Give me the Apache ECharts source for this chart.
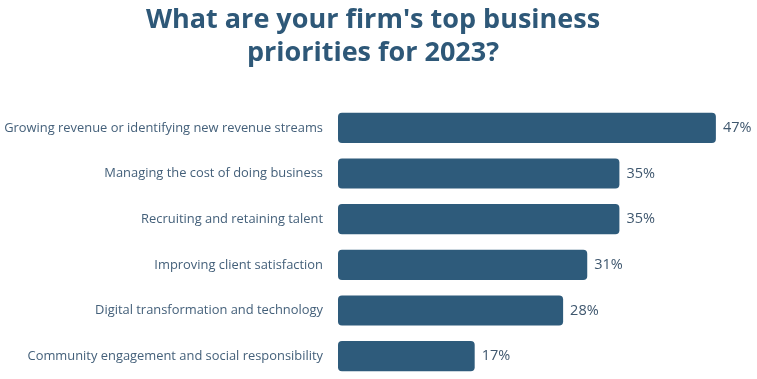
<!DOCTYPE html>
<html><head><meta charset="utf-8">
<script src="https://cdn.jsdelivr.net/npm/echarts@6/dist/echarts.min.js"></script>
<style>html,body{margin:0;padding:0;background:#fff}#c{width:757px;height:379px}</style>
</head><body><div id="c"></div>
<script>
const categories = [
  "Growing revenue or identifying new revenue streams",
  "Managing the cost of doing business",
  "Recruiting and retaining talent",
  "Improving client satisfaction",
  "Digital transformation and technology",
  "Community engagement and social responsibility"
];
const values = [47, 35, 35, 31, 28, 17];
const titleText = "What are your firm's top business\npriorities for 2023?";

const chart = echarts.init(document.getElementById('c'));
chart.setOption({
  backgroundColor: '#ffffff',
  animation: false,
  title: {
    text: titleText,
    left: 368, top: -1, textAlign: 'center',
    textStyle: { fontFamily: 'Open Sans', fontWeight: 'bold', fontSize: 27, lineHeight: 33, color: '#2e5878' }
  },
  grid: { left: 338, right: 17, top: 105, bottom: 0 },
  xAxis: { type: 'value', min: 0, max: 50, show: false },
  yAxis: {
    type: 'category', data: categories, inverse: true,
    axisLine: { show: false }, axisTick: { show: false },
    axisLabel: { margin: 15, fontFamily: 'Open Sans', fontSize: 12.9, color: '#44607a' }
  },
  series: [{
    type: 'bar', data: values, barCategoryGap: '34%',
    itemStyle: { color: '#2e5b7b', borderRadius: 4 },
    label: { show: true, position: 'right', distance: 7, formatter: '{c}%', fontFamily: 'Open Sans', fontSize: 14.5, color: '#3f576e' }
  }]
});
</script></body></html>
